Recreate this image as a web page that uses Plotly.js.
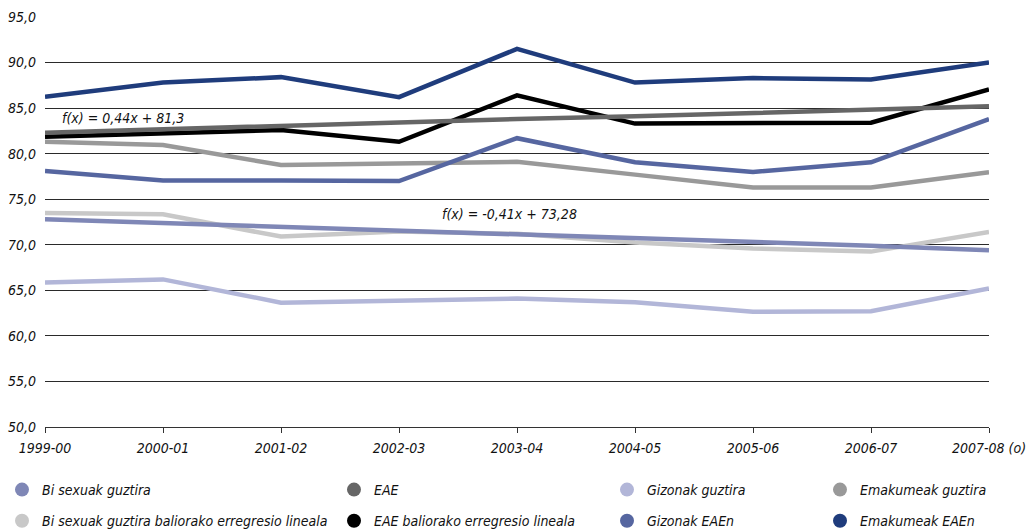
<!DOCTYPE html>
<html>
<head>
<meta charset="utf-8">
<script src="https://cdn.plot.ly/plotly-3.0.1.min.js"></script>
<style>
  html, body { margin: 0; padding: 0; background: #ffffff; }
  #chart { width: 1029px; height: 529px; }
</style>
</head>
<body>
<div id="chart"></div>
<script>
// ---- Data ----
const categories = ["1999-00", "2000-01", "2001-02", "2002-03", "2003-04", "2004-05", "2005-06", "2006-07", "2007-08 (o)"];

const biSexuakGuztira          = [72.8, 72.4, 72.0, 71.5, 71.1, 70.7, 70.3, 69.9, 69.4];
const biSexuakErregresioa      = [73.5, 73.35, 70.9, 71.45, 71.2, 70.25, 69.6, 69.25, 71.4];
const eae                      = [82.3, 82.7, 83.0, 83.4, 83.8, 84.1, 84.5, 84.8, 85.2];
const eaeErregresioa           = [81.85, 82.2, 82.6, 81.3, 86.4, 83.3, 83.4, 83.4, 87.05];
const gizonakGuztira           = [65.85, 66.2, 63.65, 63.9, 64.1, 63.7, 62.65, 62.7, 65.2];
const gizonakEAEn              = [78.1, 77.05, 77.05, 77.0, 81.7, 79.05, 78.0, 79.05, 83.8];
const emakumeakGuztira         = [81.3, 80.95, 78.75, 78.9, 79.1, 77.7, 76.3, 76.3, 77.95];
const emakumeakEAEn            = [86.25, 87.8, 88.4, 86.2, 91.5, 87.8, 88.3, 88.15, 90.0];

const seriesNames = [
  "Bi sexuak guztira",
  "Bi sexuak guztira baliorako erregresio lineala",
  "EAE",
  "EAE baliorako erregresio lineala",
  "Gizonak guztira",
  "Gizonak EAEn",
  "Emakumeak guztira",
  "Emakumeak EAEn"
];
const annotationTexts = ["f(x) = 0,44x + 81,3", "f(x) = -0,41x + 73,28"];

// ---- Font choice: narrow font if installed, else condensed fallback ----
function hasFont(name) {
  const ctx = document.createElement("canvas").getContext("2d");
  const s = "abcdefghijklmnopqrstuvwxyz0123456789";
  ctx.font = "40px monospace";
  const a = ctx.measureText(s).width;
  ctx.font = '40px "' + name + '", monospace';
  const b = ctx.measureText(s).width;
  return Math.abs(a - b) > 0.5;
}
let FONT, FS;
if (hasFont("Liberation Sans Narrow")) {
  FONT = '"Liberation Sans Narrow", sans-serif'; FS = 16;
} else {
  FONT = '"DejaVu Sans Condensed", "DejaVu Sans", sans-serif'; FS = 14;
}

// ---- Styles ----
const colors = {
  bi: "#7f87b6",
  biReg: "#c8c8c8",
  eae: "#666666",
  eaeReg: "#000000",
  gizG: "#b2b6d8",
  gizE: "#5666a0",
  emaG: "#999999",
  emaE: "#1f3c7c"
};
const LW = 4.5;

function line(y, color, group) {
  return {
    type: "scatter", mode: "lines", x: categories, y: y,
    line: { color: color, width: LW },
    showlegend: false, legendgroup: group, hoverinfo: "x+y"
  };
}
function legendEntry(name, color, group, legendId) {
  return {
    type: "scatter", mode: "markers", x: [null], y: [null], name: name,
    marker: { color: color, size: 14, symbol: "circle" },
    legendgroup: group, legend: legendId, showlegend: true, hoverinfo: "skip"
  };
}

// drawing order: data lines first, regression lines on top
const traces = [
  line(biSexuakErregresioa, colors.biReg, "g2"),
  line(eaeErregresioa, colors.eaeReg, "g4"),
  line(gizonakGuztira, colors.gizG, "g5"),
  line(emakumeakGuztira, colors.emaG, "g7"),
  line(gizonakEAEn, colors.gizE, "g6"),
  line(emakumeakEAEn, colors.emaE, "g8"),
  line(eae, colors.eae, "g3"),
  line(biSexuakGuztira, colors.bi, "g1"),
  legendEntry(seriesNames[0], colors.bi, "g1", "legend"),
  legendEntry(seriesNames[1], colors.biReg, "g2", "legend"),
  legendEntry(seriesNames[2], colors.eae, "g3", "legend2"),
  legendEntry(seriesNames[3], colors.eaeReg, "g4", "legend2"),
  legendEntry(seriesNames[4], colors.gizG, "g5", "legend3"),
  legendEntry(seriesNames[5], colors.gizE, "g6", "legend3"),
  legendEntry(seriesNames[6], colors.emaG, "g7", "legend4"),
  legendEntry(seriesNames[7], colors.emaE, "g8", "legend4")
];

const textFont = { family: FONT, size: FS, color: "#111", style: "italic" };

function legendAt(px) {
  return {
    xref: "container", yref: "container",
    x: px / 1029, y: 1 - 474 / 529, xanchor: "left", yanchor: "top",
    orientation: "v", tracegroupgap: FS === 16 ? 8 : 10, bgcolor: "rgba(0,0,0,0)",
    font: textFont,
    itemclick: false, itemdoubleclick: false
  };
}

const layout = {
  width: 1029, height: 529,
  margin: { l: 45, r: 40, t: 17, b: 102, autoexpand: false },
  paper_bgcolor: "#ffffff", plot_bgcolor: "#ffffff",
  separators: ", ",
  font: textFont,
  showlegend: true,
  xaxis: {
    type: "category", range: [0, 8], fixedrange: true, automargin: false,
    showgrid: false, zeroline: false, tickangle: 0,
    showline: true, linecolor: "#333", linewidth: 1,
    ticks: "outside", ticklen: 5, tickcolor: "#333", tickwidth: 1,
    ticklabelstandoff: 3,
    tickfont: textFont
  },
  yaxis: {
    range: [50, 95], dtick: 5, tick0: 50, tickformat: ".1f", fixedrange: true, automargin: false,
    showgrid: true, gridcolor: "#2a2a2a", gridwidth: 1,
    zeroline: false, showline: false, ticks: "",
    ticklabelstandoff: 8,
    tickfont: textFont
  },
  legend: legendAt(2),
  legend2: legendAt(334),
  legend3: legendAt(607),
  legend4: legendAt(820),
  annotations: [
    { text: annotationTexts[0], xref: "paper", yref: "y", x: 0.016, y: 83.9,
      xanchor: "left", yanchor: "middle", showarrow: false, font: textFont },
    { text: annotationTexts[1], xref: "paper", yref: "y", x: 0.418, y: 73.4,
      xanchor: "left", yanchor: "middle", showarrow: false, font: textFont }
  ]
};

Plotly.newPlot("chart", traces, layout, { displayModeBar: false, staticPlot: true });
</script>
</body>
</html>
